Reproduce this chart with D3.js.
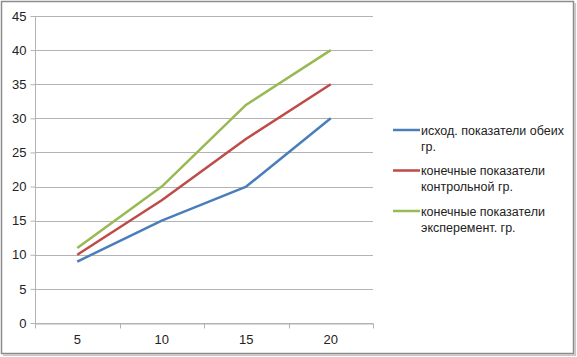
<!DOCTYPE html>
<html><head><meta charset="utf-8">
<script src="https://cdn.jsdelivr.net/npm/d3@7"></script>
<style>body{margin:0;background:#fff}svg{display:block}</style>
</head><body>
<script>
const categories = ["5", "10", "15", "20"];
const seriesNames = ["исход. показатели обеих гр.", "конечные показатели контрольной гр.", "конечные показатели эксперемент. гр."];
const blueValues = [9, 15, 20, 30];
const redValues = [10, 18, 27, 35];
const greenValues = [11, 20, 32, 40];
const yTicks = [0, 5, 10, 15, 20, 25, 30, 35, 40, 45];
const colors = ["#4a7ebb", "#be4b48", "#98b954"];
const legendLines = [["исход. показатели обеих", "гр."], ["конечные показатели", "контрольной гр."], ["конечные показатели", "эксперемент. гр."]];
const series = [blueValues, redValues, greenValues];

(function () {
const W = 577, H = 357;
const svg = d3.select("body").append("svg").attr("width", W).attr("height", H);
svg.append("rect").attr("x", 1.5).attr("y", 1.5).attr("width", W - 5).attr("height", H - 5)
  .attr("fill", "#fff").attr("stroke", "#8c8c8c").attr("stroke-width", 1.5);
svg.append("line").attr("x1", W - 2).attr("x2", W - 2).attr("y1", 3).attr("y2", H - 1).attr("stroke", "#c8c8c8").attr("stroke-width", 2);
svg.append("line").attr("x1", 3).attr("x2", W - 1).attr("y1", H - 2).attr("y2", H - 2).attr("stroke", "#c8c8c8").attr("stroke-width", 2);

const pL = 35, pR = 373, pT = 16, pB = 323;
const x = d3.scaleBand().domain(categories).range([pL, pR]);
const y = d3.scaleLinear().domain([0, 45]).range([pB, pT]);
const font = "'Liberation Sans', Arial, sans-serif";

// gridlines
svg.append("g").selectAll("line").data(yTicks).join("line")
  .attr("x1", pL).attr("x2", pR)
  .attr("y1", d => Math.round(y(d)) + 0.5).attr("y2", d => Math.round(y(d)) + 0.5)
  .attr("stroke", "#b3b3b3").attr("stroke-width", 1);

// y axis
const yAxis = svg.append("g").attr("transform", `translate(${pL + 0.5},0)`)
  .call(d3.axisLeft(y).tickValues(yTicks).tickSize(5).tickPadding(4));
yAxis.select(".domain").attr("stroke", "#b3b3b3").attr("d", `M0,${pT}V${pB}`);
yAxis.selectAll(".tick line").attr("stroke", "#b3b3b3");
yAxis.selectAll(".tick text").attr("font-family", font).attr("font-size", 13).attr("fill", "#222");

// x axis
const xAxis = svg.append("g").attr("transform", `translate(0,${Math.round(pB) + 0.5})`)
  .call(d3.axisBottom(x).tickSize(0).tickPadding(11));
xAxis.select(".domain").attr("stroke", "#b3b3b3");
xAxis.selectAll(".tick text").attr("font-family", font).attr("font-size", 13).attr("fill", "#222");
const bounds = categories.map(c => x(c)).concat([pR]);
xAxis.append("g").selectAll("line").data(bounds).join("line")
  .attr("x1", d => Math.round(d) + 0.5).attr("x2", d => Math.round(d) + 0.5)
  .attr("y1", 0).attr("y2", 5).attr("stroke", "#b3b3b3");

// lines
const line = d3.line().x((d, i) => x(categories[i]) + x.bandwidth() / 2).y(d => y(d));
svg.append("g").selectAll("path").data(series).join("path")
  .attr("d", line).attr("fill", "none")
  .attr("stroke", (d, i) => colors[i]).attr("stroke-width", 2.5)
  .attr("stroke-linejoin", "round");

// legend
const lg = svg.append("g");
const rowY = [130, 170.5, 211];
legendLines.forEach((lines, i) => {
  const yy = rowY[i];
  lg.append("line").attr("x1", 393).attr("x2", 420).attr("y1", yy).attr("y2", yy)
    .attr("stroke", colors[i]).attr("stroke-width", 2.5);
  const t = lg.append("text").attr("x", 421).attr("y", yy + 4.5)
    .attr("font-family", font).attr("font-size", 12.5).attr("fill", "#222");
  lines.forEach((s, j) => t.append("tspan").attr("x", 421).attr("dy", j ? 16 : 0).text(s));
});
})();
</script>
</body></html>
